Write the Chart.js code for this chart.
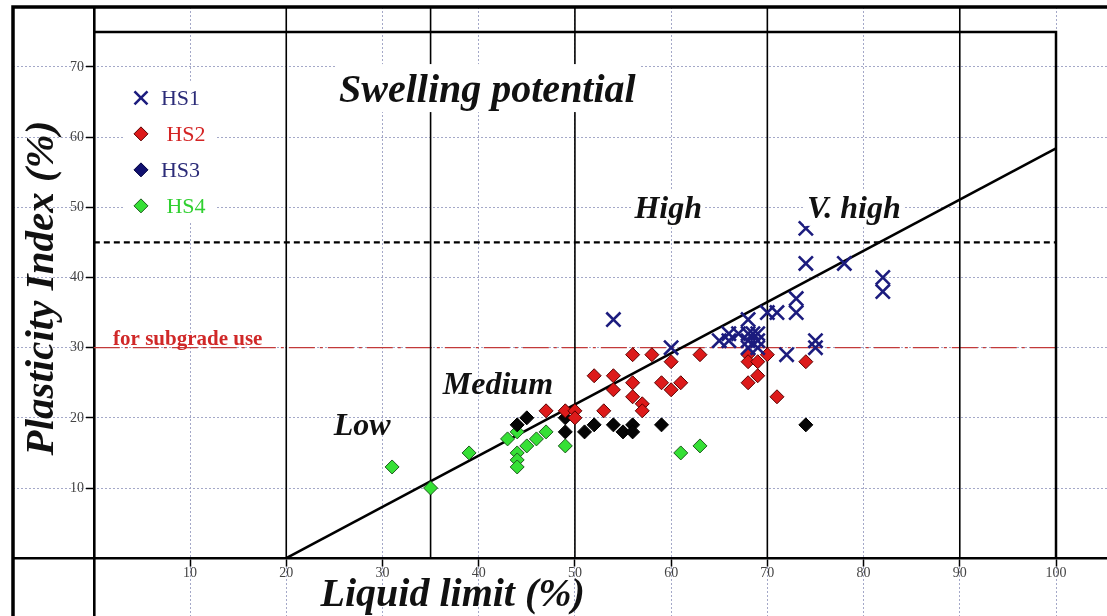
<!DOCTYPE html>
<html>
<head>
<meta charset="utf-8">
<script src="https://cdn.jsdelivr.net/npm/chart.js@4.4.0/dist/chart.umd.min.js"></script>
<style>
  html, body { margin: 0; padding: 0; background: #fff; }
</style>
</head>
<body>
<canvas id="chart" width="1107" height="616"></canvas>
<script>
// Liquid limit (LL) and plasticity index (PI) of each soil group, in %
const hs1LL = [54, 60, 65, 66, 66, 67, 68, 68.5, 69, 68, 68, 69, 68, 69, 70, 71, 72, 73, 73, 74, 74, 75, 75, 78, 82, 82];
const hs1PI = [34, 30, 31, 31, 32, 32, 32, 32, 32, 34, 31, 31, 30, 30, 35, 35, 29, 37, 35, 47, 42, 31, 30, 42, 40, 38];

const hs2LL = [47, 49, 50, 50, 52, 53, 54, 54, 56, 56, 56, 57, 57, 58, 59, 60, 60, 61, 63, 68, 68, 69, 69, 68, 70, 71, 74];
const hs2PI = [21, 21, 21, 20, 26, 21, 26, 24, 29, 25, 23, 22, 21, 29, 25, 28, 24, 25, 29, 29, 28, 28, 26, 25, 29, 23, 28];

const hs3LL = [44, 45, 49, 49, 51, 52, 54, 55, 56, 56, 59, 74];
const hs3PI = [19, 20, 20, 18, 18, 19, 19, 18, 19, 18, 19, 19];

const hs4LL = [31, 35, 39, 43, 44, 44, 44, 44, 45, 46, 47, 49, 61, 63];
const hs4PI = [13, 10, 15, 17, 18, 15, 14, 13, 16, 17, 18, 16, 15, 16];

const groupNames = ['HS1', ' HS2', 'HS3', ' HS4'];

const xTicks = [10, 20, 30, 40, 50, 60, 70, 80, 90, 100];
const yTicks = [10, 20, 30, 40, 50, 60, 70];

// swelling potential class limits on the LL axis
const zoneLL = [20, 35, 50, 70, 90];
const zoneNames = ['Low', 'Medium', 'High', 'V. high'];

// A-line end points, PI = 0.73 (LL - 20)
const aLineLL = [20, 100];
const aLinePI = [0, 58.4];

const highPI = 45;     // high / very high limit
const subgradePI = 30; // limit for subgrade use

const SERIF = '"Liberation Serif", "Times New Roman", serif';

function pts(xs, ys) {
  return xs.map((v, i) => ({ x: v, y: ys[i] }));
}

function refLine(data, color, width, dash) {
  return {
    data: data, showLine: true, pointRadius: 0, pointHoverRadius: 0,
    borderColor: color, borderWidth: width, borderDash: dash || [],
    fill: false, order: 10
  };
}

const datasets = [
  { label: groupNames[0], data: pts(hs1LL, hs1PI), pointStyle: 'crossRot', pointRadius: 10,
    borderColor: '#1c1c7e', borderWidth: 2.6, backgroundColor: '#1c1c7e', order: 1 },
  { label: groupNames[1], data: pts(hs2LL, hs2PI), pointStyle: 'rectRot', pointRadius: 7,
    borderColor: '#5a0000', borderWidth: 1, backgroundColor: '#dd1a1a', order: 2 },
  { label: groupNames[2], data: pts(hs3LL, hs3PI), pointStyle: 'rectRot', pointRadius: 7,
    borderColor: '#000', borderWidth: 1, backgroundColor: '#050505', order: 3 },
  { label: groupNames[3], data: pts(hs4LL, hs4PI), pointStyle: 'rectRot', pointRadius: 7,
    borderColor: '#1c5a1c', borderWidth: 1, backgroundColor: '#35e035', order: 4 }
];

// class boundaries, plot box, A-line and limit lines
zoneLL.forEach(v => datasets.push(refLine([{ x: v, y: 0 }, { x: v, y: 78.6 }], '#000', 1.6)));
datasets.push(refLine([{ x: 0, y: 75 }, { x: 100, y: 75 }, { x: 100, y: 0 }], '#000', 2.5));
datasets.push(refLine(pts(aLineLL, aLinePI), '#000', 2.6));
datasets.push(refLine([{ x: 0, y: highPI }, { x: 100, y: highPI }], '#000', 2.4, [6, 4]));
datasets.push(refLine([{ x: 0, y: subgradePI }, { x: 100, y: subgradePI }], '#c23a3a', 1.4, [26, 5, 3, 5]));

const notes = {
  id: 'notes',
  afterDatasetsDraw(chart) {
    const ctx = chart.ctx;
    const sx = chart.scales.x, sy = chart.scales.y;
    const px = v => sx.getPixelForValue(v);
    const py = v => sy.getPixelForValue(v);

    function text(str, vx, vy, font, color, pad) {
      ctx.font = font;
      ctx.textAlign = 'center';
      ctx.textBaseline = 'alphabetic';
      const w = ctx.measureText(str).width;
      if (pad) {
        ctx.fillStyle = '#fff';
        ctx.fillRect(px(vx) - w / 2 - pad[0], py(vy) - pad[1], w + 2 * pad[0], pad[1] + pad[2]);
      }
      ctx.fillStyle = color;
      ctx.fillText(str, px(vx), py(vy));
    }

    ctx.save();
    const big = 'italic bold 40px ' + SERIF;
    const mid = 'italic bold 32px ' + SERIF;
    text('Swelling potential', 40.9, 65.0, big, '#111', [4, 38, 10]);
    text(zoneNames[0], 27.9, 17.6, mid, '#111');
    text(zoneNames[1], 42.0, 23.4, mid, '#111');
    text(zoneNames[2], 59.7, 48.5, mid, '#111', [3, 27, 8]);
    text(zoneNames[3], 79.0, 48.5, mid, '#111', [3, 27, 8]);

    ctx.font = 'bold 21px ' + SERIF;
    ctx.textAlign = 'left';
    ctx.fillStyle = '#d02828';
    ctx.fillText('for subgrade use', px(2.0), py(30.4));

    // axis titles
    ctx.font = 'italic bold 40px ' + SERIF;
    ctx.fillStyle = '#111';
    ctx.textAlign = 'center';
    ctx.fillText('Liquid limit (%)', px(37.3), py(-6.8));
    ctx.save();
    ctx.font = 'italic bold 41px ' + SERIF;
    ctx.translate(px(-4.2), py(38.5));
    ctx.rotate(-Math.PI / 2);
    ctx.fillText('Plasticity Index (%)', 0, 0);
    ctx.restore();

    // legend
    const lx = px(4.9), ly = py(65.6);
    ctx.fillStyle = '#fff';
    ctx.fillRect(lx - 17, ly - 17, 92, 142);
    const textColors = ['#2b2b78', '#d42424', '#2b2b78', '#30d030'];
    const markColors = ['#1c1c7e', '#dd1a1a', '#101070', '#35e035'];
    const markEdges = ['#1c1c7e', '#5a0000', '#000040', '#1c5a1c'];
    ctx.font = '22px ' + SERIF;
    ctx.textAlign = 'left';
    ctx.textBaseline = 'middle';
    datasets.slice(0, 4).forEach((ds, i) => {
      const cy = ly + i * 36;
      if (ds.pointStyle === 'crossRot') {
        ctx.strokeStyle = markColors[i];
        ctx.lineWidth = 2.6;
        ctx.beginPath();
        ctx.moveTo(lx - 6.5, cy - 6.5); ctx.lineTo(lx + 6.5, cy + 6.5);
        ctx.moveTo(lx + 6.5, cy - 6.5); ctx.lineTo(lx - 6.5, cy + 6.5);
        ctx.stroke();
      } else {
        ctx.fillStyle = markColors[i];
        ctx.strokeStyle = markEdges[i];
        ctx.lineWidth = 1;
        ctx.beginPath();
        ctx.moveTo(lx, cy - 7); ctx.lineTo(lx + 7, cy);
        ctx.lineTo(lx, cy + 7); ctx.lineTo(lx - 7, cy);
        ctx.closePath();
        ctx.fill(); ctx.stroke();
      }
      ctx.fillStyle = textColors[i];
      ctx.fillText(ds.label, lx + 20, cy + 1);
    });
    ctx.restore();
  },
  afterDraw(chart) {
    // heavy frame along the top and left edges
    const ctx = chart.ctx;
    const a = chart.chartArea;
    ctx.save();
    ctx.strokeStyle = '#000';
    ctx.lineWidth = 3.5;
    ctx.beginPath();
    ctx.moveTo(a.left, a.bottom);
    ctx.lineTo(a.left, a.top);
    ctx.lineTo(a.right, a.top);
    ctx.stroke();
    ctx.restore();
  }
};

function axisOptions(min, max, ticks, pos, label) {
  return {
    type: 'linear', min: min, max: max, position: pos,
    afterBuildTicks: scale => { scale.ticks = ticks.map(v => ({ value: v })); },
    // the axes sit inside the plot, so no room is kept for their labels
    afterFit: scale => {
      scale.paddingLeft = scale.paddingRight = scale.paddingTop = scale.paddingBottom = 0;
    },
    grid: { color: '#a4a8c8', lineWidth: 1, drawTicks: true, tickLength: 7, tickColor: '#000', tickWidth: 1.5 },
    border: { display: true, color: '#000', width: 2.6, dash: [2, 2] },
    ticks: { color: '#444', font: { family: SERIF, size: 14 }, padding: 0, autoSkip: false, maxRotation: 0,
      callback: label }
  };
}

new Chart(document.getElementById('chart'), {
  type: 'scatter',
  data: { datasets: datasets },
  options: {
    responsive: false,
    animation: false,
    layout: { autoPadding: false, padding: { left: 13, top: 7, right: 0, bottom: 0 } },
    plugins: { legend: { display: false }, tooltip: { enabled: false } },
    scales: {
      x: axisOptions(-8.4, 105.3, xTicks, { y: 0 }, v => String(v)),
      y: axisOptions(-8.24, 78.55, yTicks, { x: 0 }, v => v + '\u2002\u2009')
    }
  },
  plugins: [notes]
});
</script>
</body>
</html>
